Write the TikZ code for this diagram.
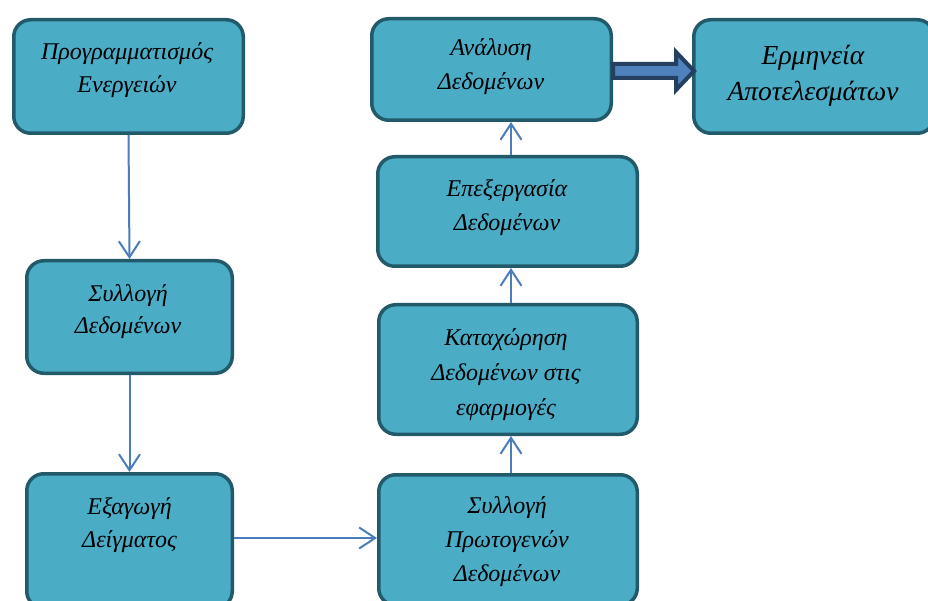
\documentclass[tikz,border=0pt]{standalone}
\usepackage{fontspec}
\setmainfont{Liberation Serif}
\usetikzlibrary{arrows.meta,calc}

\definecolor{boxfill}{HTML}{4BACC6}
\definecolor{boxline}{HTML}{235A6A}
\definecolor{flowline}{HTML}{4A7EBB}
\definecolor{fatfill}{HTML}{4F81BD}
\definecolor{fatline}{HTML}{243F60}

\tikzset{
  stagebox/.style={draw=boxline, fill=boxfill, line width=3.5pt,
    rounded corners=17pt, inner sep=0pt},
  stagetext/.style={align=center, inner sep=0pt,
    font=\itshape\fontsize{24}{33}\selectfont},
  bigtext/.style={align=center, inner sep=0pt,
    font=\itshape\fontsize{27.5}{36}\selectfont},
  flow/.style={draw=flowline, line width=2pt,
    -{Straight Barb[length=16pt,width=21pt,line width=2pt]}},
  fatarrow/.style={draw=fatline, fill=fatfill, line width=4pt, line join=miter},
}

\begin{document}
\begin{tikzpicture}[x=1pt, y=-1pt]
  \useasboundingbox[fill=white] (0,0) rectangle (928,601);
  \clip (0,0) rectangle (928,601);

  % stage boxes
  \node[stagebox, minimum width=229.5pt, minimum height=113.5pt] (b1) at (128.5,76.5) {};
  \node[stagebox, minimum width=205.5pt, minimum height=112.5pt] (b2) at (129.5,317) {};
  \node[stagebox, minimum width=205.5pt, minimum height=134.5pt] (b3) at (129.5,541) {};
  \node[stagebox, minimum width=258.5pt, minimum height=130.5pt] (b4) at (508,540) {};
  \node[stagebox, minimum width=258.5pt, minimum height=129.5pt] (b5) at (508,369.5) {};
  \node[stagebox, minimum width=259.5pt, minimum height=109.5pt] (b6) at (507.5,211.5) {};
  \node[stagebox, minimum width=239.5pt, minimum height=101.5pt] (b7) at (491.5,69.5) {};
  \node[stagebox, minimum width=240.5pt, minimum height=113.5pt] (b8) at (814,76.5) {};

  % labels
  \node[stagetext] (t1) at (127,70.5) {Προγραμματισμός\\Ενεργειών};
  \node[stagetext, font=\itshape\fontsize{24}{32}\selectfont] (t2) at (128,311.5) {Συλλογή\\Δεδομένων};
  \node[stagetext] (t3) at (129.5,525.5) {Εξαγωγή\\Δείγματος};
  \node[stagetext, font=\itshape\fontsize{24}{34}\selectfont] (t4) at (507,541.5) {Συλλογή\\Πρωτογενών\\Δεδομένων};
  \node[stagetext, font=\itshape\fontsize{24}{35}\selectfont] (t5) at (506,375) {Καταχώρηση\\Δεδομένων στις\\εφαρμογές};
  \node[stagetext, font=\itshape\fontsize{24}{34}\selectfont] (t6) at (507,207.5) {Επεξεργασία\\Δεδομένων};
  \node[stagetext, font=\itshape\fontsize{24}{34}\selectfont] (t7) at (491,66.5) {Ανάλυση\\Δεδομένων};
  \node[bigtext] (t8) at (813,76) {Ερμηνεία\\Αποτελεσμάτων};

  % flow connectors
  \draw[flow] (b1.south) -- (b2.north);
  \draw[flow] (b2.south) -- (b3.north);
  \draw[flow] ($(b3.east)+(0,-3)$) -- ($(b4.west)+(0,-2)$);
  \draw[flow] (b4.north -| 511,0) -- (b5.south -| 511,0);
  \draw[flow] (b5.north -| 511,0) -- (b6.south -| 511,0);
  \draw[flow] (b6.north -| 511,0) -- (b7.south -| 511,0);

  % block arrow into the interpretation stage
  \coordinate (fs) at (b7.east |- 0,71);
  \coordinate (ft) at (b8.west |- 0,71);
  \draw[fatarrow] ($(fs)+(0,-7)$) -- ($(ft)+(-16,-7)$) -- ($(ft)+(-16,-19)$)
    -- ($(ft)+(2,0)$) -- ($(ft)+(-16,19)$) -- ($(ft)+(-16,7)$)
    -- ($(fs)+(0,7)$) -- cycle;
\end{tikzpicture}
\end{document}
